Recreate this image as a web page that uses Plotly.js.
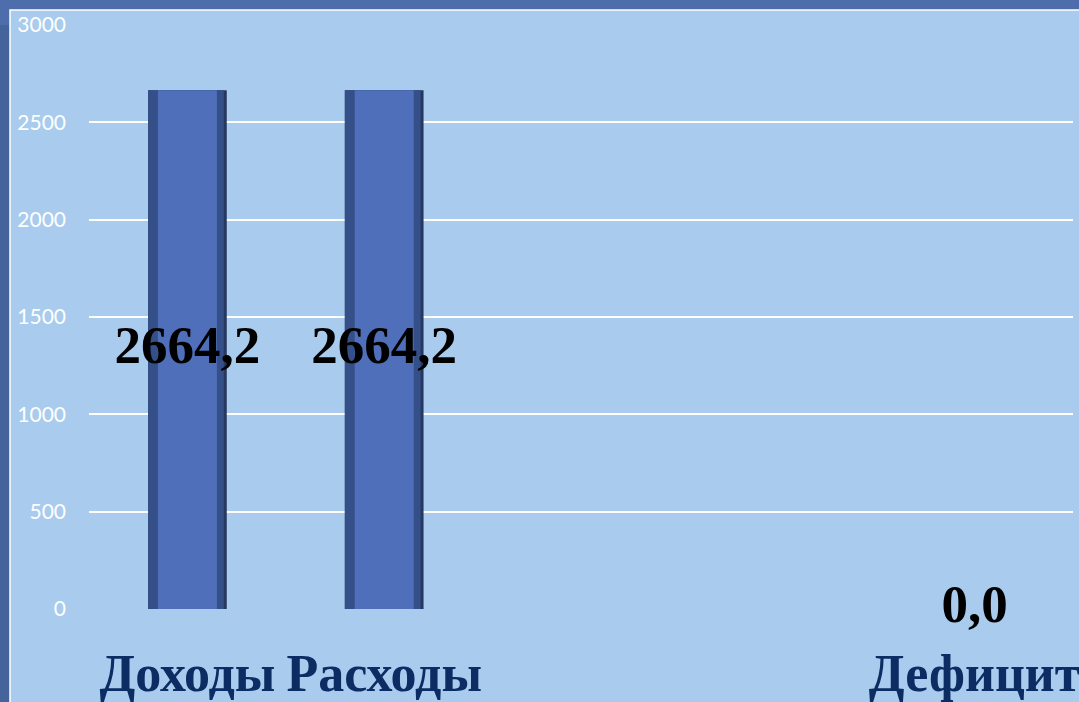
<!DOCTYPE html>
<html><head><meta charset="utf-8">
<script src="https://cdn.plot.ly/plotly-3.0.1.min.js"></script>
<style>html,body{margin:0;padding:0;background:#46649c;}#chart{width:1079px;height:702px;}</style>
</head><body><div id="chart"></div>
<script>
const categories = ["Доходы", "Расходы", " ", "  ", "Дефицит"];
const values = [2664.2, 2664.2, null, null, 0.0];
const labels = ["2664,2", "2664,2", "", "", "0,0"];
const yTicks = [0, 500, 1000, 1500, 2000, 2500, 3000];

const barCats = categories.filter((c, i) => values[i] !== null && values[i] > 0);
const barVals = values.filter(v => v !== null && v > 0);

const edge = {type:'bar', x: barCats, y: barVals, width: 0.40,
  marker:{color:'#26385f', line:{width:0}}, hoverinfo:'skip', showlegend:false};
const mid1 = {type:'bar', x: barCats, y: barVals, width: 0.385, offset:-0.2,
  marker:{color:'#354f88', line:{width:0}}, hoverinfo:'skip', showlegend:false};
const face = {type:'bar', x: barCats, y: barVals, width: 0.30, offset:-0.15,
  marker:{color:'#4f6fba', line:{width:0}}, hoverinfo:'skip', showlegend:false};
const txt = {type:'scatter', mode:'text', x: categories,
  y: values.map(v => v === null ? null : v / 2),
  text: labels, textposition:'middle center',
  textfont:{family:'Liberation Serif, Times New Roman, serif', size:53, color:'#000000', weight:'bold'},
  hoverinfo:'skip', showlegend:false, cliponaxis:false};

const layout = {
  width:1079, height:702,
  margin:{l:89, r:6, t:25, b:93},
  paper_bgcolor:'#46649c', plot_bgcolor:'rgba(0,0,0,0)',
  barmode:'overlay',
  xaxis:{type:'category', categoryorder:'array', categoryarray: categories, range:[-0.5, 4.5],
    showgrid:false, zeroline:false, showline:false, ticks:'',
    ticklabelstandoff: 29,
    tickfont:{family:'Liberation Serif, Times New Roman, serif', size:52, color:'#0b2d63', weight:'bold'},
    fixedrange:true},
  yaxis:{range:[0,3000], tickvals: yTicks, showgrid:true, gridcolor:'#ffffff', gridwidth:2,
    zeroline:false, showline:false, ticks:'', ticklabelstandoff: 22,
    tickfont:{family:'Lato, Open Sans, sans-serif', size:21, color:'#ffffff', weight:400},
    fixedrange:true},
  shapes:[
    {type:'rect', xref:'paper', yref:'paper', x0:-0.25, x1:1.1, y0:1.0, y1:1.2, fillcolor:'#4d6eab', line:{width:0}, layer:'below'},
    {type:'rect', xref:'paper', yref:'paper', x0:(10-89)/984, x1:1.1, y0:-0.3, y1:1+15/584,
      fillcolor:'#a9cbee', line:{color:'#ffffff', width:1.5}, layer:'below'}
  ]
};
Plotly.newPlot('chart', [edge, mid1, face, txt], layout, {displayModeBar:false, staticPlot:true});
</script></body></html>
